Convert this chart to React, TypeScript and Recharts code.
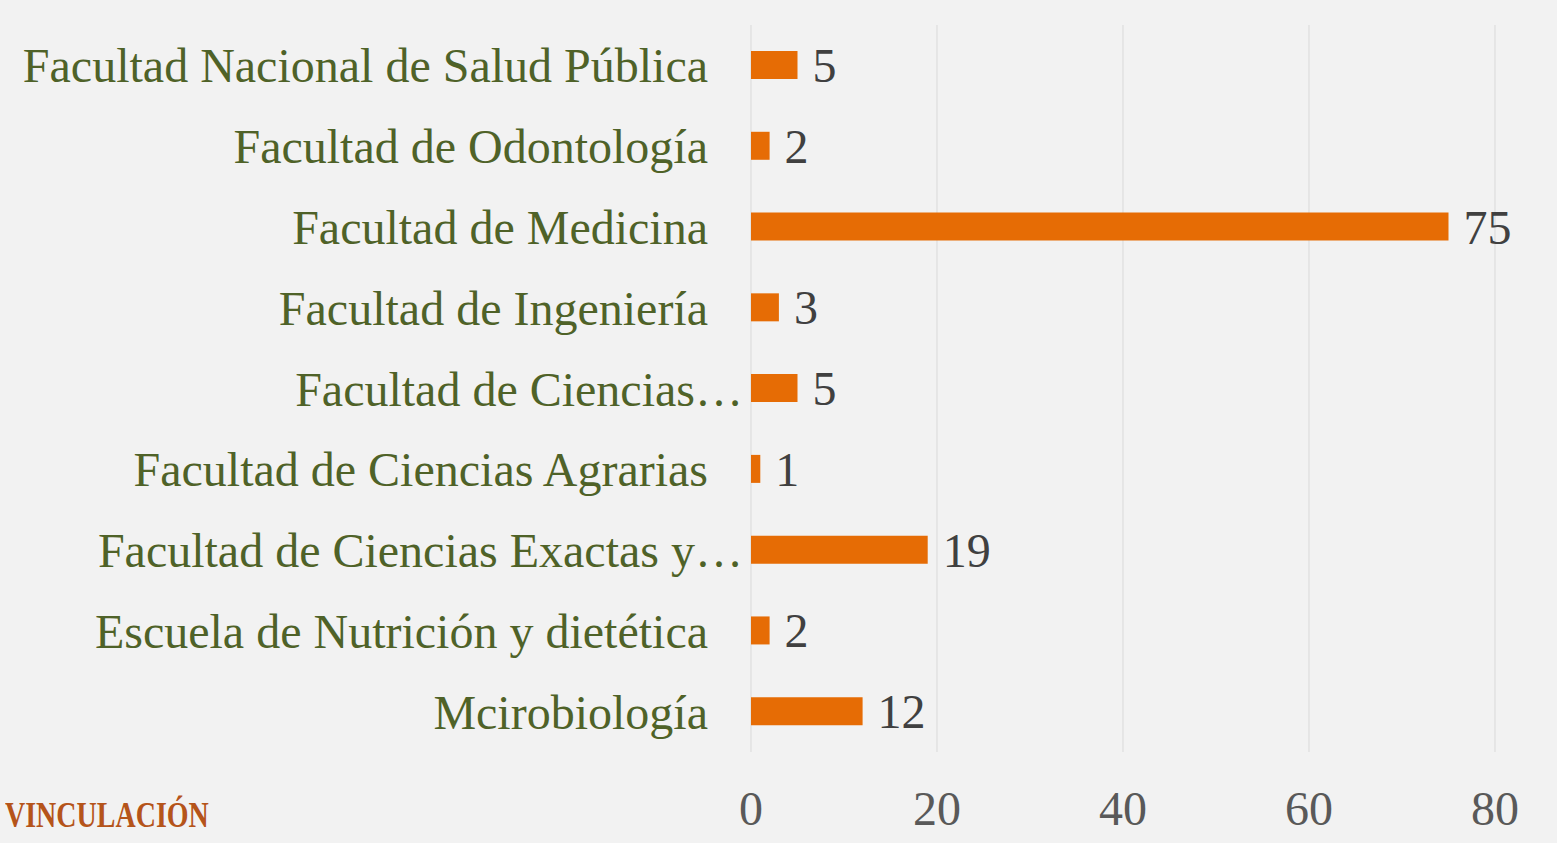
import { BarChart, Bar, XAxis, YAxis, CartesianGrid, LabelList } from 'recharts';

const categories = [
  'Facultad Nacional de Salud Pública',
  'Facultad de Odontología',
  'Facultad de Medicina',
  'Facultad de Ingeniería',
  'Facultad de Ciencias…',
  'Facultad de Ciencias Agrarias',
  'Facultad de Ciencias Exactas y…',
  'Escuela de Nutrición y dietética',
  'Mcirobiología',
];

const values = [5, 2, 75, 3, 5, 1, 19, 2, 12];

const xTicks = [0, 20, 40, 60, 80];

const data = categories.map((name, i) => ({ name, value: values[i] }));

const FONT = '"Liberation Serif", "Times New Roman", serif';

const CategoryTick = ({ x, y, payload }: any) => {
  const label: string = payload.value;
  // truncated labels run right up to the axis
  const shift = label.endsWith('…') ? 35 : 0;
  return (
    <text
      x={x + shift}
      y={y}
      dy="0.355em"
      textAnchor="end"
      fill="#4f6228"
      fontSize={48}
      fontFamily={FONT}
    >
      {label}
    </text>
  );
};

export default function App() {
  return (
    <div
      style={{
        position: 'absolute',
        left: 0,
        top: 0,
        width: 1557,
        height: 843,
        background: '#f2f2f2',
        overflow: 'hidden',
      }}
    >
      <BarChart
        width={1557}
        height={843}
        data={data}
        layout="vertical"
        margin={{ top: 25, right: 62, bottom: 0, left: 0 }}
        barCategoryGap={0}
      >
        <CartesianGrid horizontal={false} stroke="#d9d9d9" />
        <XAxis
          type="number"
          domain={[0, 80]}
          ticks={xTicks}
          axisLine={false}
          tickLine={false}
          tickSize={0}
          tickMargin={39}
          height={91}
          tick={{ fill: '#595959', fontSize: 48, fontFamily: FONT }}
        />
        <YAxis
          type="category"
          dataKey="name"
          width={751}
          axisLine={false}
          tickLine={false}
          tickSize={0}
          tickMargin={43}
          interval={0}
          tick={<CategoryTick />}
        />
        <Bar dataKey="value" fill="#e66c05" barSize={28} isAnimationActive={false}>
          <LabelList
            dataKey="value"
            position="right"
            offset={15}
            fill="#404040"
            fontSize={48}
            fontFamily={FONT}
          />
        </Bar>
      </BarChart>
      <div
        style={{
          position: 'absolute',
          left: 5,
          top: 797,
          fontFamily: FONT,
          fontWeight: 'bold',
          fontSize: 28,
          color: '#b5541a',
          transform: 'scaleY(1.3)',
          transformOrigin: 'left top',
          lineHeight: 1,
        }}
      >
        VINCULACIÓN
      </div>
    </div>
  );
}
